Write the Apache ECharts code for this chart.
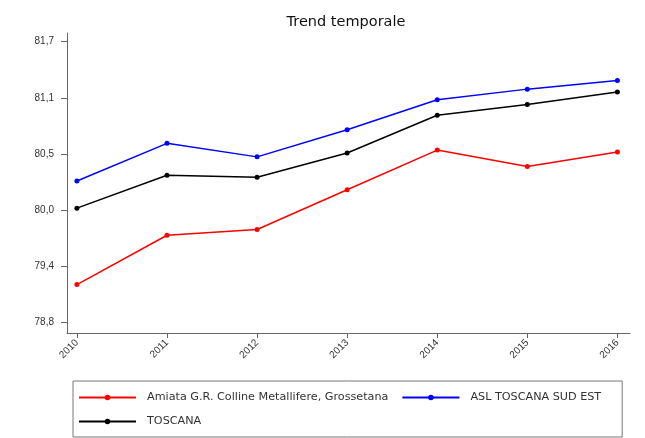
<!DOCTYPE html>
<html>
<head>
<meta charset="utf-8">
<title>Trend temporale</title>
<script src="https://cdn.jsdelivr.net/npm/echarts@6/dist/echarts.min.js"></script>
<style>
  html, body { margin: 0; padding: 0; background: #fff; }
  #chart { width: 645px; height: 438px; }
</style>
</head>
<body>
<div id="chart"></div>
<script>
// values
const years = [2010, 2011, 2012, 2013, 2014, 2015, 2016]
const amiata = [79.19, 79.70, 79.76, 80.17, 80.58, 80.41, 80.56]
const aslSudEst = [80.26, 80.65, 80.51, 80.79, 81.10, 81.21, 81.30]
const toscana = [79.98, 80.32, 80.30, 80.55, 80.94, 81.05, 81.18]
// y ticks are evenly spaced between 78.8 and 81.7
const yTicks = [78.8, 79.38, 79.96, 80.54, 81.12, 81.7]

const font = 'Liberation Sans, Arial, sans-serif'
const wideFont = 'DejaVu Sans, sans-serif'

function pairs(values) {
  return years.map((y, i) => [y, values[i]])
}

function lineSeries(name, values, color) {
  return {
    name: name,
    type: 'line',
    data: pairs(values),
    symbol: 'circle',
    symbolSize: 5,
    lineStyle: { color: color, width: 1.5 },
    itemStyle: { color: color },
    emphasis: { disabled: true }
  }
}

const chart = echarts.init(document.getElementById('chart'))
chart.setOption({
  animation: false,
  backgroundColor: '#fff',
  title: {
    text: 'Trend temporale',
    left: 341,
    textAlign: 'center',
    top: 10,
    textStyle: { fontFamily: wideFont, fontSize: 14.5, fontWeight: 'normal', color: '#111' }
  },
  grid: { left: 67, right: 15, top: 33, bottom: 105 },
  xAxis: {
    type: 'value',
    min: 2009.89,
    max: 2016.14,
    axisLine: { lineStyle: { color: '#666' } },
    axisTick: { customValues: years, length: 5, lineStyle: { color: '#666' } },
    axisLabel: {
      customValues: years,
      rotate: 45,
      margin: 8,
      fontFamily: font,
      fontSize: 10,
      color: '#333',
      formatter: v => String(v)
    },
    splitLine: { show: false }
  },
  yAxis: {
    type: 'value',
    min: 78.69,
    max: 81.79,
    axisLine: { show: true, lineStyle: { color: '#666' } },
    axisTick: { show: true, customValues: yTicks, length: 6, lineStyle: { color: '#666' } },
    axisLabel: {
      customValues: yTicks,
      margin: 13,
      fontFamily: font,
      fontSize: 10,
      color: '#333',
      formatter: v => v.toFixed(1).replace('.', ',')
    },
    splitLine: { show: false }
  },
  legend: {
    left: 73,
    top: 381,
    width: 540,
    padding: [11, 21, 10, 5],
    itemWidth: 57,
    itemHeight: 7,
    itemGap: 13,
    borderColor: '#777',
    borderWidth: 1,
    textStyle: { fontFamily: wideFont, fontSize: 11.2, color: '#333', padding: [0, 1, 0, 6] },
    data: ['Amiata G.R. Colline Metallifere, Grossetana', 'ASL TOSCANA SUD EST', 'TOSCANA']
  },
  series: [
    lineSeries('Amiata G.R. Colline Metallifere, Grossetana', amiata, '#ff0000'),
    lineSeries('ASL TOSCANA SUD EST', aslSudEst, '#0000ff'),
    lineSeries('TOSCANA', toscana, '#000000')
  ]
})
</script>
</body>
</html>
